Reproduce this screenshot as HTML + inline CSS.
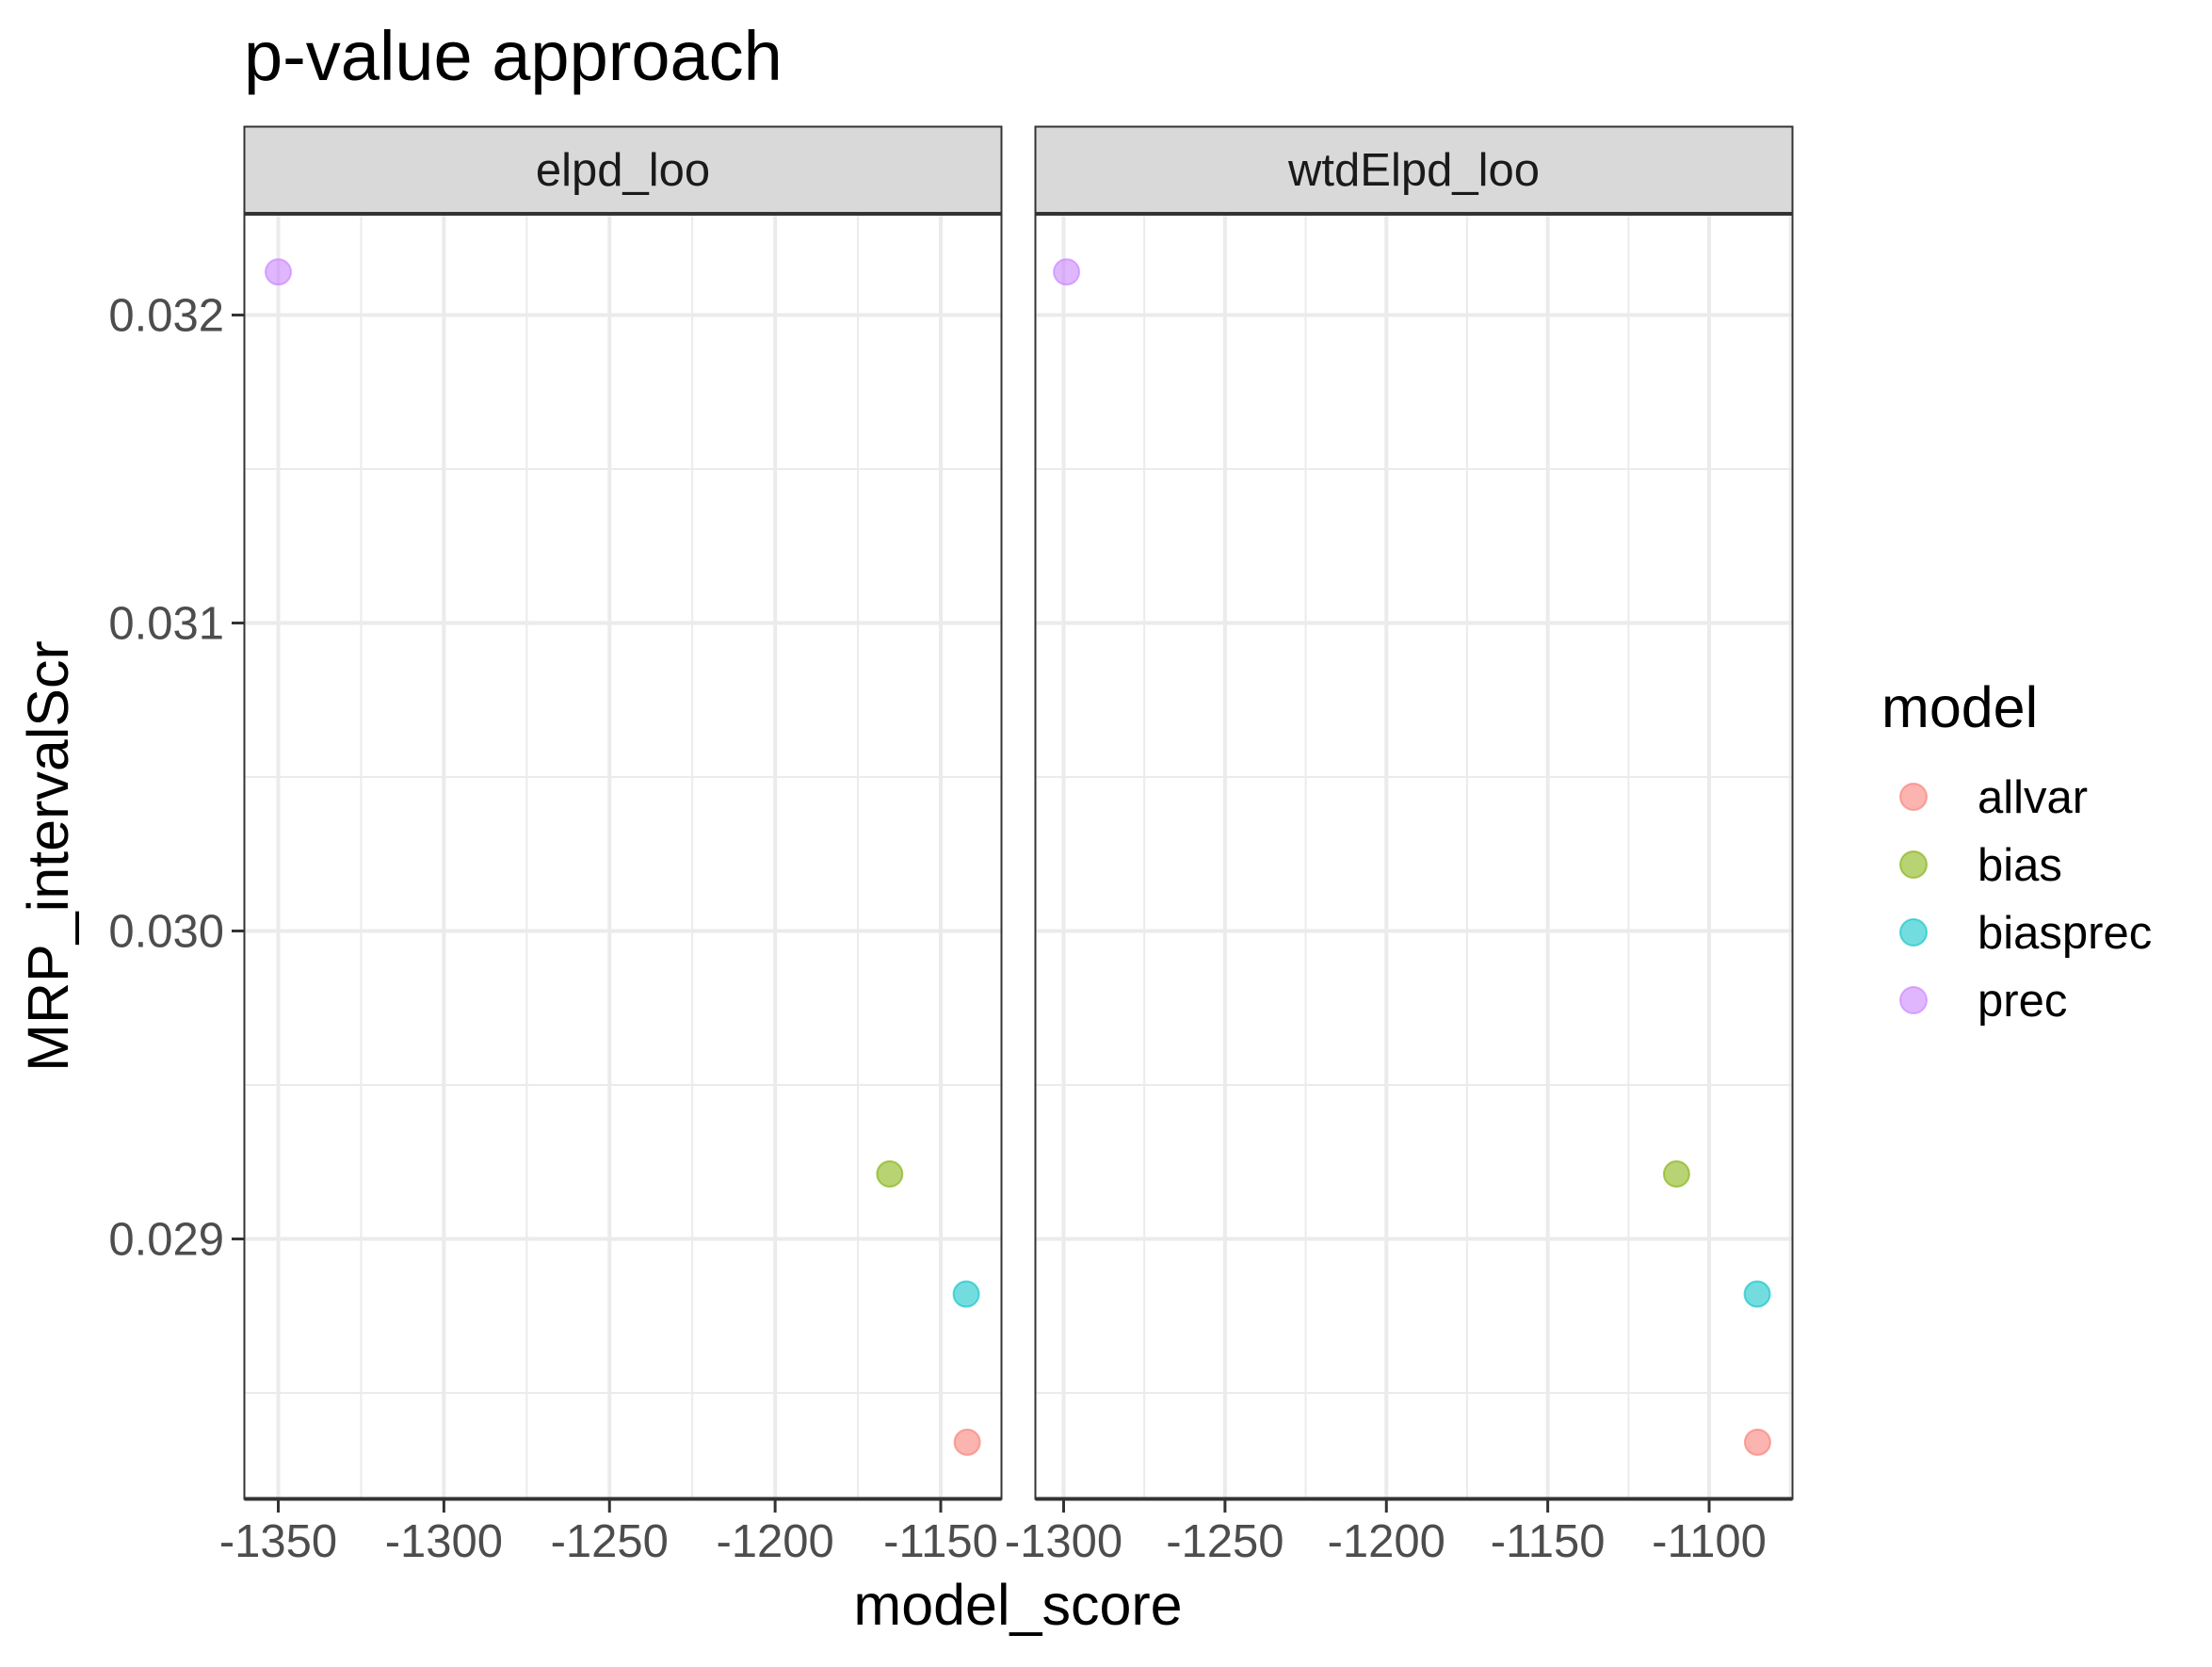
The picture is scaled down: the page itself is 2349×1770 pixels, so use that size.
<!DOCTYPE html>
<html><head><meta charset="utf-8"><style>
html,body{margin:0;padding:0;background:#fff;}
svg{display:block;font-family:"Liberation Sans",Arial,sans-serif;}
</style></head><body>
<svg id="chart" width="2349" height="1770" viewBox="0 0 2349 1770" xmlns="http://www.w3.org/2000/svg">
<rect width="2349" height="1770" fill="#fff"/>
<text x="259" y="85" font-size="74" fill="#000">p-value approach</text>
<text transform="translate(72,909) rotate(-90)" text-anchor="middle" font-size="61" fill="#000">MRP_intervalScr</text>
<text x="1081" y="1725" text-anchor="middle" font-size="61" fill="#000">model_score</text>
<g id="panels"></g>
<g id="legend">
<text x="1998" y="772" font-size="61" fill="#000">model</text>
</g>
</svg>
<script>
const models = ["allvar","bias","biasprec","prec"];
const colors = ["#F8766D","#7CAE00","#00BFC4","#C77CFF"];
const facets = ["elpd_loo","wtdElpd_loo"];
const scoresElpd = [-1142, -1165.4, -1142.3, -1350];
const scoresWtd = [-1085, -1110.1, -1085.1, -1299.1];
const intervalScr = [0.02834, 0.029211, 0.028821, 0.03214];
const xTicksElpd = [-1350,-1300,-1250,-1200,-1150];
const xTicksWtd = [-1300,-1250,-1200,-1150,-1100];
const yTicks = [0.029,0.030,0.031,0.032];
const yTickLabels = ["0.029","0.030","0.031","0.032"];

const NS="http://www.w3.org/2000/svg";
const svgEl=document.getElementById('chart');
const panelsG=document.getElementById('panels');
function mk(tag,attrs,parent){const e=document.createElementNS(NS,tag);for(const k in attrs)e.setAttribute(k,attrs[k]);(parent||svgEl).appendChild(e);return e;}

const plotTop=227, plotBottom=1591.5;
function yScale(v){return 334.5-(v-0.032)*327000;}
const panelDefs=[
 {x0:259.5,x1:1063.5,ref:-1350,refPx:295.5,k:3.5175,scores:scoresElpd,ticks:xTicksElpd},
 {x0:1099.5,x1:1903.5,ref:-1300,refPx:1129.5,k:3.4275,scores:scoresWtd,ticks:xTicksWtd}
];
panelDefs.forEach((p,pi)=>{
  const xs=v=>p.refPx+(v-p.ref)*p.k;
  const g=mk('g',{},panelsG);
  
  
  const s=mk('rect',{x:p.x0,y:134.5,width:p.x1-p.x0,height:plotTop-134.5,fill:'#D9D9D9',stroke:'#333',"stroke-width":2},g);
  
  
  const st=mk('text',{x:(p.x0+p.x1)/2,y:197,"text-anchor":"middle","font-size":49,fill:'#1A1A1A'},g);
  st.textContent=facets[pi];
  
  
  mk('rect',{x:p.x0,y:plotTop,width:p.x1-p.x0,height:plotBottom-plotTop,fill:'#fff'},g);
  for(let i=0;i<yTicks.length;i++){
    const y=yScale(yTicks[i]-0.0005);
    if(y>plotTop&&y<plotBottom){const l=mk('line',{x1:p.x0,x2:p.x1,y1:y,y2:y,stroke:'#EBEBEB',"stroke-width":2},g);
      
      }
  }
  for(let i=0;i<=p.ticks.length;i++){
    const x=xs(p.ticks[0]-25+i*50);
    if(x>p.x0&&x<p.x1){const l=mk('line',{x1:x,x2:x,y1:plotTop,y2:plotBottom,stroke:'#EBEBEB',"stroke-width":2},g);
      
      }
  }
  yTicks.forEach((t)=>{const y=yScale(t);const l=mk('line',{x1:p.x0,x2:p.x1,y1:y,y2:y,stroke:'#EBEBEB',"stroke-width":4},g);
    
    });
  p.ticks.forEach((t)=>{const x=xs(t);const l=mk('line',{x1:x,x2:x,y1:plotTop,y2:plotBottom,stroke:'#EBEBEB',"stroke-width":4},g);
    
    
    const tk=mk('line',{x1:x,x2:x,y1:plotBottom,y2:1606,stroke:'#333',"stroke-width":3},g);
    
    
    const tl=mk('text',{x:x,y:1653,"text-anchor":"middle","font-size":49,fill:'#4D4D4D'},g);tl.textContent=String(t);
    
    
  });
  p.scores.forEach((v,i)=>{const c=mk('circle',{cx:xs(v),cy:yScale(intervalScr[i]),r:13.5,fill:colors[i],"fill-opacity":0.55,stroke:colors[i],"stroke-opacity":0.6,"stroke-width":2},g);
    
    });
  mk('rect',{x:p.x0,y:plotTop,width:p.x1-p.x0,height:plotBottom-plotTop,fill:'none',stroke:'#333',"stroke-width":2},g);
  mk('line',{x1:p.x0,x2:p.x1,y1:plotBottom,y2:plotBottom,stroke:'#333',"stroke-width":4},g);
  mk('line',{x1:p.x0,x2:p.x1,y1:plotTop,y2:plotTop,stroke:'#333',"stroke-width":4},g);
});
yTicks.forEach((t,i)=>{const y=yScale(t);
  const tk=mk('line',{x1:246,x2:259.5,y1:y,y2:y,stroke:'#333',"stroke-width":3});
  
  
  const tl=mk('text',{x:238,y:y+17,"text-anchor":"end","font-size":49,fill:'#4D4D4D'});tl.textContent=yTickLabels[i];
  
  
});
const lg=document.getElementById('legend');
models.forEach((m,i)=>{const y=846+i*72;
  const c=mk('circle',{cx:2032,cy:y,r:14,fill:colors[i],"fill-opacity":0.55,stroke:colors[i],"stroke-opacity":0.6,"stroke-width":2},lg);
  
  
  const t=mk('text',{x:2100,y:y+17,"font-size":49,fill:'#000'},lg);t.textContent=m;
  
  
});
</script>
</body></html>
